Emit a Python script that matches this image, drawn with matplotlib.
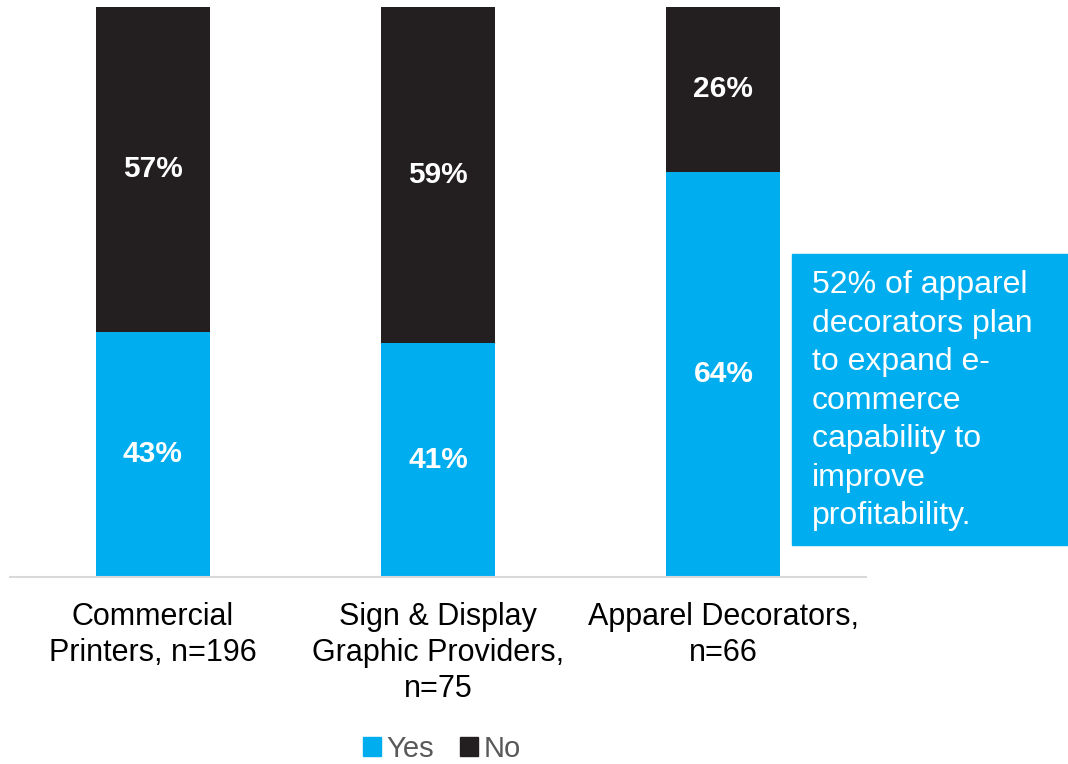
import matplotlib
matplotlib.use('Agg')
import matplotlib.pyplot as plt
import numpy as np
from matplotlib.patches import Patch

plt.rcParams['font.family'] = ['Liberation Sans', 'DejaVu Sans']

categories = ['Commercial\nPrinters, n=196',
              'Sign & Display\nGraphic Providers,\nn=75',
              'Apparel Decorators,\nn=66']
yes_vals = [43, 41, 64]
no_vals = [57, 59, 26]

blue = '#00AEEF'
dark = '#231F20'

# 100% stacked: normalise each bar by its own total
yes = np.array(yes_vals, dtype=float)
no = np.array(no_vals, dtype=float)
tot = yes + no
yes_n = yes / tot * 100
no_n = no / tot * 100

fig = plt.figure(figsize=(10.68, 7.64), dpi=100)
ax = fig.add_axes([10 / 1068, 187 / 764, 856 / 1068, 570 / 764])
x = np.arange(len(categories))
ax.bar(x, yes_n, width=0.4, color=blue, label='Yes')
ax.bar(x, no_n, width=0.4, bottom=yes_n, color=dark, label='No')

for i in range(len(x)):
    ax.text(x[i], yes_n[i] / 2, '{}%'.format(yes_vals[i]), ha='center', va='center',
            color='white', fontsize=21.5, fontweight='bold')
    ax.text(x[i], yes_n[i] + no_n[i] / 2, '{}%'.format(no_vals[i]), ha='center', va='center',
            color='white', fontsize=21.5, fontweight='bold')

ax.set_xlim(-0.5, len(x) - 0.5)
ax.set_ylim(0, 100)
ax.set_yticks([])
ax.set_xticks(x)
ax.set_xticklabels(categories, fontsize=22, color='black', linespacing=1.27)
ax.tick_params(axis='x', length=0, pad=18)
for s in ['top', 'right', 'left']:
    ax.spines[s].set_visible(False)
ax.spines['bottom'].set_color('#D9D9D9')
ax.spines['bottom'].set_linewidth(1.5)

# callout box
fig.patches.append(plt.Rectangle((792 / 1068, 219 / 764), 276 / 1068, 291 / 764,
                                 transform=fig.transFigure, color=blue, zorder=0))
fig.text(812 / 1068, 494 / 764,
         '52% of apparel\ndecorators plan\nto expand e-\ncommerce\ncapability to\nimprove\nprofitability.',
         ha='left', va='top', color='white', fontsize=23, linespacing=1.37)

handles = [Patch(color=blue, label='Yes'), Patch(color=dark, label='No')]
leg = fig.legend(handles=handles, loc='center', bbox_to_anchor=(442 / 1068, 15 / 764), ncol=2,
                 frameon=False, fontsize=21, handlelength=0.6, handleheight=0.6,
                 handletextpad=0.2, columnspacing=0.9)
for t in leg.get_texts():
    t.set_color('#595959')

fig.savefig('out.png', dpi=100)
